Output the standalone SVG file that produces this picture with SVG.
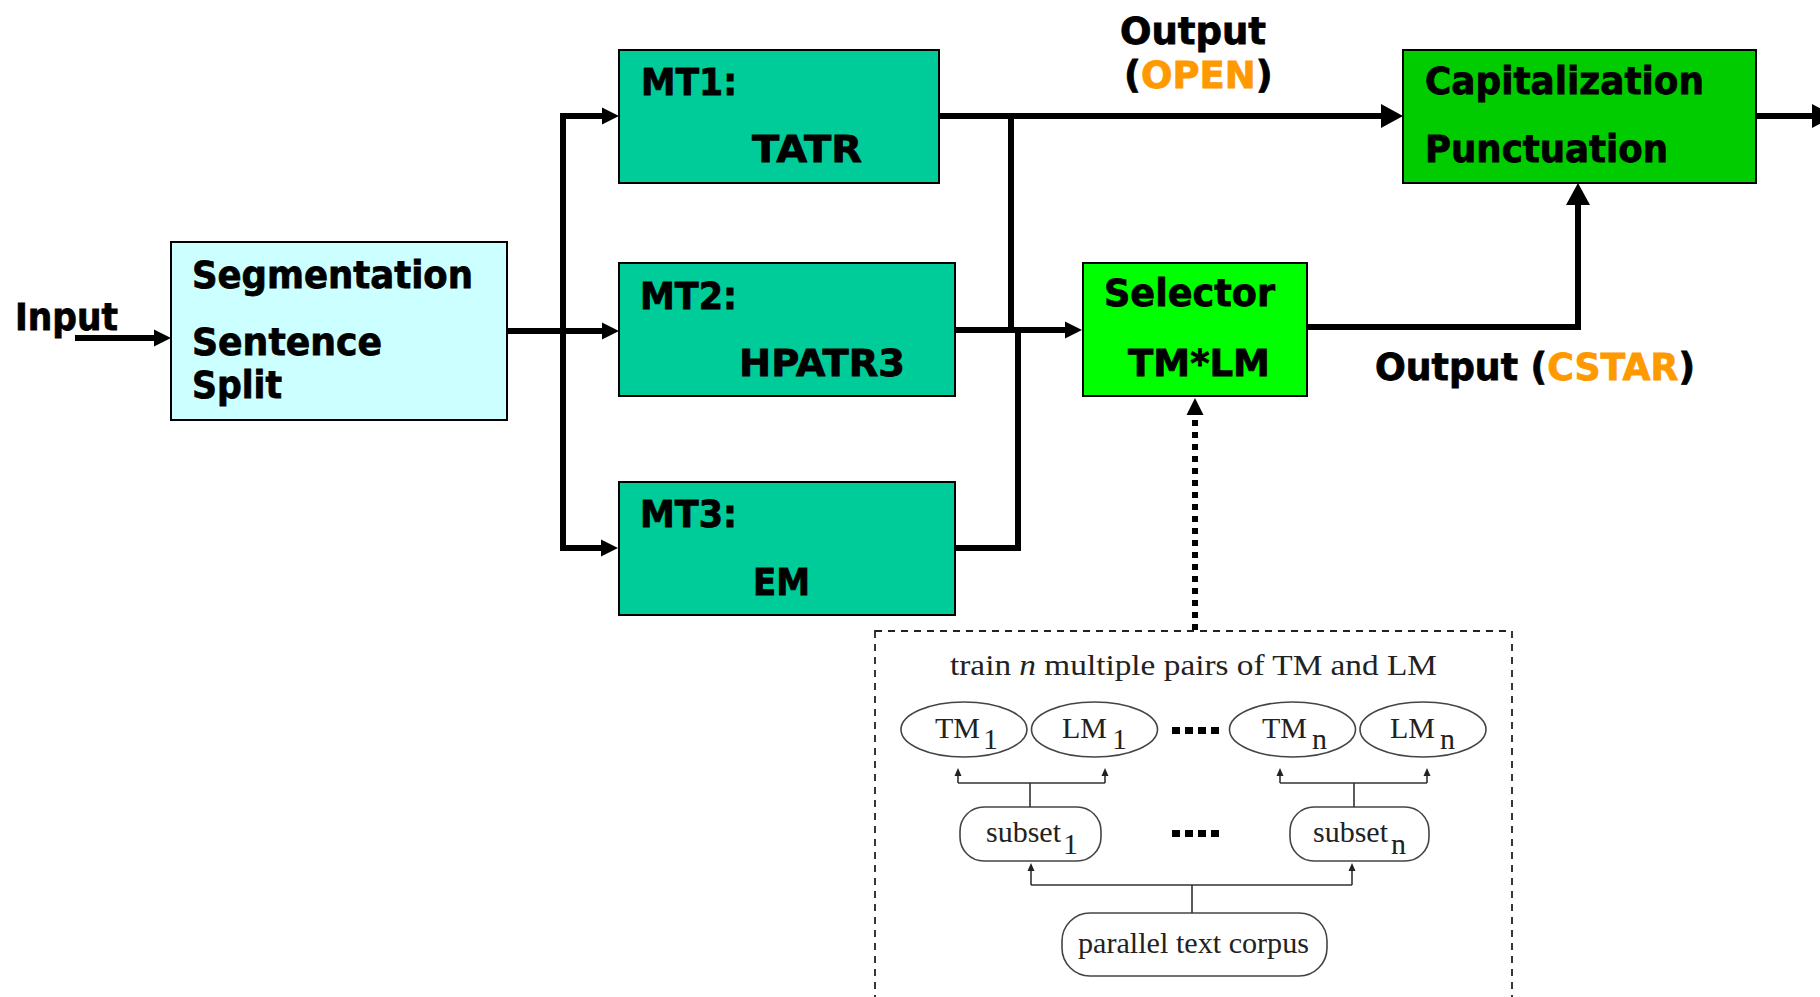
<svg xmlns="http://www.w3.org/2000/svg" width="1820" height="997" viewBox="0 0 1820 997">
<style>
.box{stroke:#000;stroke-width:2}
.t{font-family:"DejaVu Sans","Liberation Sans",sans-serif;font-weight:bold;font-size:37px;fill:#000;stroke:#000;stroke-width:0.8}
.or{fill:#FF9900;stroke:#FF9900}
.c{fill:none;stroke:#000;stroke-width:6}
.s{font-family:"Liberation Serif","Times New Roman",serif;font-size:30px;fill:#222}
.thin{fill:none;stroke:#333;stroke-width:1.6}
.ov{fill:#fff;stroke:#444;stroke-width:1.6}
</style>
<defs>
<marker id="am" viewBox="0 -9 17 18" refX="0" refY="0" markerWidth="17" markerHeight="18" markerUnits="userSpaceOnUse" orient="auto" overflow="visible"><path d="M0,-8.5 L17,0 L0,8.5 z" fill="#000"/></marker>
<marker id="al" viewBox="0 -12 22 24" refX="0" refY="0" markerWidth="22" markerHeight="24" markerUnits="userSpaceOnUse" orient="auto" overflow="visible"><path d="M0,-12 L22,0 L0,12 z" fill="#000"/></marker>
<marker id="as" viewBox="0 -4 8 8" refX="0" refY="0" markerWidth="8" markerHeight="8" markerUnits="userSpaceOnUse" orient="auto" overflow="visible"><path d="M0,-3.5 L8,0 L0,3.5 z" fill="#222"/></marker>
</defs>
<rect width="1820" height="997" fill="#fff"/>

<g id="connectors">
<path class="c" d="M75,338 H154" stroke-width="5" marker-end="url(#am)"/>
<path class="c" d="M507,331 H602" marker-end="url(#am)"/>
<path class="c" d="M563,116 V548" stroke-width="5" stroke-linecap="square"/>
<path class="c" d="M563,116 H602" stroke-width="5" marker-end="url(#am)"/>
<path class="c" d="M563,548 H601" stroke-width="5" marker-end="url(#am)"/>
<path class="c" d="M939,116 H1381" stroke-width="7" marker-end="url(#al)"/>
<path class="c" d="M1011,116 V331" stroke-width="5.5"/>
<path class="c" d="M955,330 H1065" marker-end="url(#am)"/>
<path class="c" d="M955,548 H1018 V330" stroke-width="6.5"/>
<path class="c" d="M1307,327 H1578 V205" stroke-width="7" marker-end="url(#al)"/>
<path class="c" d="M1756,116 H1812" stroke-width="7" marker-end="url(#al)"/>
<path class="c" d="M1195,630 V415" stroke-dasharray="6 6" marker-end="url(#am)"/>
</g>

<g id="input"><text class="t" x="15" y="330" textLength="103" lengthAdjust="spacingAndGlyphs">Input</text></g>

<g id="segmentation">
<rect class="box" x="171" y="242" width="336" height="178" fill="#CCFFFF"/>
<text class="t" x="192" y="288" textLength="281" lengthAdjust="spacingAndGlyphs">Segmentation</text>
<text class="t" x="192" y="355" textLength="190" lengthAdjust="spacingAndGlyphs">Sentence</text>
<text class="t" x="192" y="398" textLength="90" lengthAdjust="spacingAndGlyphs">Split</text>
</g>

<g id="mt1">
<rect class="box" x="619" y="50" width="320" height="133" fill="#00CC99"/>
<text class="t" x="641" y="95" textLength="96" lengthAdjust="spacingAndGlyphs">MT1:</text>
<text class="t" x="752" y="162" textLength="110" lengthAdjust="spacingAndGlyphs">TATR</text>
</g>

<g id="mt2">
<rect class="box" x="619" y="263" width="336" height="133" fill="#00CC99"/>
<text class="t" x="640" y="309" textLength="97" lengthAdjust="spacingAndGlyphs">MT2:</text>
<text class="t" x="739" y="376" textLength="166" lengthAdjust="spacingAndGlyphs">HPATR3</text>
</g>

<g id="mt3">
<rect class="box" x="619" y="482" width="336" height="133" fill="#00CC99"/>
<text class="t" x="640" y="527" textLength="97" lengthAdjust="spacingAndGlyphs">MT3:</text>
<text class="t" x="753" y="595" textLength="57" lengthAdjust="spacingAndGlyphs">EM</text>
</g>

<g id="selector">
<rect class="box" x="1083" y="263" width="224" height="133" fill="#00FF00"/>
<text class="t" x="1104" y="306" textLength="171" lengthAdjust="spacingAndGlyphs">Selector</text>
<text class="t" x="1128" y="376" textLength="142" lengthAdjust="spacingAndGlyphs">TM*LM</text>
</g>

<g id="capitalization">
<rect class="box" x="1403" y="50" width="353" height="133" fill="#00CC00"/>
<text class="t" x="1425" y="94" textLength="279" lengthAdjust="spacingAndGlyphs">Capitalization</text>
<text class="t" x="1425" y="162" textLength="243" lengthAdjust="spacingAndGlyphs">Punctuation</text>
</g>

<g id="label-open">
<text class="t" font-size="34"><tspan x="1120" y="44">Output</tspan><tspan x="1124" y="88">(<tspan class="or">OPEN</tspan>)</tspan></text>
</g>

<g id="label-cstar">
<text class="t" x="1375" y="380" textLength="320" lengthAdjust="spacingAndGlyphs">Output (<tspan class="or">CSTAR</tspan>)</text>
</g>

<g id="training">
<rect x="875" y="631" width="637" height="400" fill="none" stroke="#222" stroke-width="1.8" stroke-dasharray="7 6"/>
<text class="s" x="950" y="675" textLength="487" lengthAdjust="spacingAndGlyphs">train <tspan font-style="italic">n</tspan> multiple pairs of TM and LM</text>

<g id="tm1"><ellipse class="ov" cx="964" cy="729.5" rx="63" ry="27.5"/><text class="s" x="935" y="738">TM<tspan x="983" y="749">1</tspan></text></g>
<g id="lm1"><ellipse class="ov" cx="1094.5" cy="729.5" rx="63" ry="27.5"/><text class="s" x="1062" y="738">LM<tspan x="1112" y="749">1</tspan></text></g>
<g id="tmn"><ellipse class="ov" cx="1292.5" cy="729.5" rx="63" ry="27.5"/><text class="s" x="1262" y="738">TM<tspan x="1312" y="749">n</tspan></text></g>
<g id="lmn"><ellipse class="ov" cx="1423" cy="729.5" rx="63" ry="27.5"/><text class="s" x="1390" y="738">LM<tspan x="1440" y="749">n</tspan></text></g>

<g id="dots1" fill="#000"><rect x="1172" y="727" width="8" height="7"/><rect x="1185" y="727" width="8" height="7"/><rect x="1198" y="727" width="8" height="7"/><rect x="1211" y="727" width="8" height="7"/></g>
<g id="dots2" fill="#000"><rect x="1172" y="830" width="8" height="7"/><rect x="1185" y="830" width="8" height="7"/><rect x="1198" y="830" width="8" height="7"/><rect x="1211" y="830" width="8" height="7"/></g>

<g id="subset1"><rect class="ov" x="960" y="807" width="141" height="54" rx="24"/><text class="s" x="986" y="842">subset<tspan x="1063" y="854">1</tspan></text></g>
<g id="subsetn"><rect class="ov" x="1290" y="807" width="139" height="54" rx="24"/><text class="s" x="1313" y="842">subset<tspan x="1391" y="854">n</tspan></text></g>

<g id="corpus"><rect class="ov" x="1062" y="913" width="265" height="63" rx="28"/><text class="s" x="1078" y="953" textLength="231" lengthAdjust="spacingAndGlyphs">parallel text corpus</text></g>

<g id="training-connectors">
<path class="thin" d="M1030,807 V783 M958,783 H1105"/>
<path class="thin" d="M958,783 V776" marker-end="url(#as)"/>
<path class="thin" d="M1105,783 V776" marker-end="url(#as)"/>
<path class="thin" d="M1354,807 V783 M1280,783 H1427"/>
<path class="thin" d="M1280,783 V776" marker-end="url(#as)"/>
<path class="thin" d="M1427,783 V776" marker-end="url(#as)"/>
<path class="thin" d="M1192,913 V885 M1031,885 H1352"/>
<path class="thin" d="M1031,885 V871" marker-end="url(#as)"/>
<path class="thin" d="M1352,885 V871" marker-end="url(#as)"/>
</g>
</g>
</svg>
